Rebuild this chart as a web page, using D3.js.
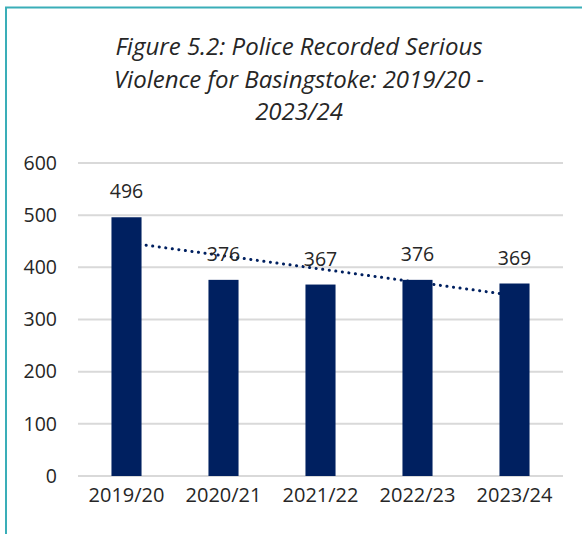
<!DOCTYPE html>
<html>
<head>
<meta charset="utf-8">
<script src="https://cdn.jsdelivr.net/npm/d3@7"></script>
<style>
  body { margin: 0; background: #fff; }
  text { font-family: "Open Sans", sans-serif; fill: #262626; }
</style>
</head>
<body>
<div id="chart"></div>
<script>
var years = ["2019/20", "2020/21", "2021/22", "2022/23", "2023/24"];
var counts = [496, 376, 367, 376, 369];
var yTicks = [0, 100, 200, 300, 400, 500, 600];
var titleLines = ["Figure 5.2: Police Recorded Serious", "Violence for Basingstoke: 2019/20 -", "2023/24"];

var width = 582, height = 534;
var svg = d3.select("#chart").append("svg").attr("width", width).attr("height", height);

// frame (left + top edges visible)
svg.append("path")
	.attr("d", "M6,534 L6,7.5 L582,7.5")
	.attr("fill", "none")
	.attr("stroke", "#3aaeb8")
	.attr("stroke-width", 2);

var title = svg.append("text")
	.attr("text-anchor", "middle")
	.style("font-size", "24px")
	.style("font-style", "italic");
titleLines.forEach((t, i) => {
	title.append("tspan").attr("x", 299).attr("y", 55 + i * 32.5).text(t);
});

var x = d3.scaleBand().domain(years).range([78, 563]).paddingInner(0.69).paddingOuter(0.345);
var y = d3.scaleLinear().domain([0, 600]).range([476, 163]);

// gridlines
svg.append("g").selectAll("line")
	.data(yTicks)
	.enter().append("line")
		.attr("x1", 78).attr("x2", 563)
		.attr("y1", d => y(d)).attr("y2", d => y(d))
		.attr("stroke", "#d9d9d9")
		.attr("stroke-width", 2);

// y axis labels
var yAxis = svg.append("g")
	.attr("transform", "translate(57,0)")
	.call(d3.axisLeft(y).tickValues(yTicks).tickSize(0).tickPadding(0));
yAxis.select(".domain").remove();
yAxis.selectAll("text").style("font-size", "19.5px").attr("fill", "#262626");

// x axis labels
var xAxis = svg.append("g")
	.attr("transform", "translate(0,476)")
	.call(d3.axisBottom(x).tickSize(0).tickPadding(12));
xAxis.select(".domain").remove();
xAxis.selectAll("text").style("font-size", "20px").attr("fill", "#262626");

// linear trendline (least squares)
var n = counts.length;
var mx = d3.mean(counts, (d, i) => i), my = d3.mean(counts);
var slope = d3.sum(counts, (d, i) => (i - mx) * (d - my)) / d3.sum(counts, (d, i) => (i - mx) * (i - mx));
var icpt = my - slope * mx;
svg.append("line")
	.attr("x1", x(years[0]) + x.bandwidth() / 2)
	.attr("y1", y(icpt))
	.attr("x2", x(years[n - 1]) + x.bandwidth() / 2)
	.attr("y2", y(icpt + slope * (n - 1)))
	.attr("stroke", "#002060")
	.attr("stroke-width", 3)
	.attr("stroke-linecap", "round")
	.attr("stroke-dasharray", "0.1,6.5");

// bars
svg.append("g").selectAll("rect")
	.data(counts)
	.enter().append("rect")
		.attr("x", (d, i) => x(years[i]))
		.attr("y", d => y(d))
		.attr("width", x.bandwidth())
		.attr("height", d => y(0) - y(d))
		.attr("fill", "#002060");

// data labels
svg.append("g").selectAll("text")
	.data(counts)
	.enter().append("text")
		.attr("x", (d, i) => x(years[i]) + x.bandwidth() / 2)
		.attr("y", d => y(d) - 19)
		.attr("text-anchor", "middle")
		.style("font-size", "19.5px")
		.text(d => d);
</script>
</body>
</html>
